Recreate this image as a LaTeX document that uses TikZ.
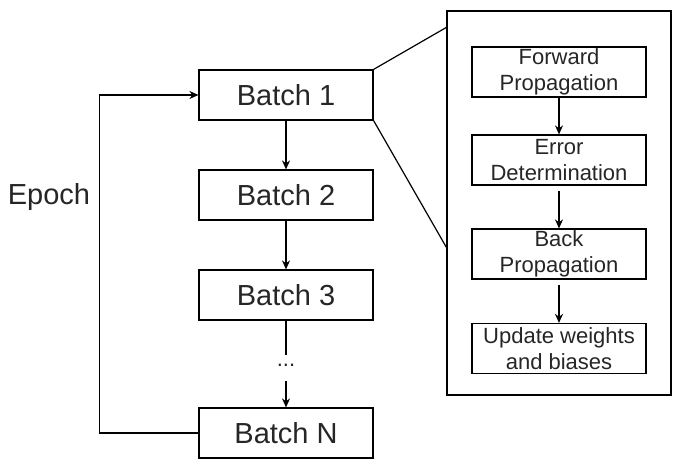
\documentclass[tikz,border=0pt]{standalone}
\usepackage{fontspec}
\setmainfont{Liberation Sans}
\usetikzlibrary{arrows.meta,calc}
\begin{document}
\begin{tikzpicture}[x=1pt,y=-1pt,line width=1.2pt,
  batchbox/.style={draw,minimum width=174pt,minimum height=50pt,inner sep=0pt,
    text=black!85,font=\fontsize{29}{34}\selectfont},
  stepbox/.style={draw,minimum width=174pt,minimum height=50pt,inner sep=0pt,
    align=center,text=black!85,font=\fontsize{22}{26}\selectfont},
  arr/.style={-{Stealth[length=9pt,width=8pt]}}]
\useasboundingbox (0,0) rectangle (683,462);
% batches
\node[batchbox] (b1) at (286,95) {Batch 1};
\node[batchbox] (b2) at (286,195) {Batch 2};
\node[batchbox] (b3) at (286,295) {Batch 3};
\node[inner sep=0pt,minimum height=24pt,text=black!85,font=\fontsize{22}{26}\selectfont] (dots) at (286,368) {\raisebox{5pt}{...}};
\node[batchbox] (bn) at (286,433) {Batch N};
\draw[arr] (b1) -- (b2);
\draw[arr] (b2) -- (b3);
\draw (b3.south) -- (dots.north);
\draw[arr] (dots.south) -- (bn.north);
% epoch loop
\draw[arr] (bn.west) -- ++(-99,0) |- (b1.west);
\node[text=black!85,font=\fontsize{29}{34}\selectfont] (epoch) at (49,197) {Epoch};
% zoom box
\node[draw,minimum width=224pt,minimum height=384pt,inner sep=0pt] (zoom) at (559,203) {};
\coordinate (zt) at ($(zoom.north west)+(0,17)$);
\coordinate (zb) at ($(zoom.north west)+(0,237)$);
\draw (b1.north east) -- (zt);
\draw (b1.south east) -- (zb);
% steps
\node[stepbox] (fp) at (559,72) {Forward\\Propagation};
\node[stepbox] (ed) at (559,160) {Error\\Determination};
\node[stepbox] (bp) at (559,254) {Back\\Propagation};
\node[stepbox] (uw) at (559,348.5) {Update weights\\and biases};
\draw[arr] (fp) -- (ed);
\draw[arr,shorten <=5pt] (ed) -- (bp);
\draw[arr,shorten <=5pt] (bp) -- (uw);
\end{tikzpicture}
\end{document}
